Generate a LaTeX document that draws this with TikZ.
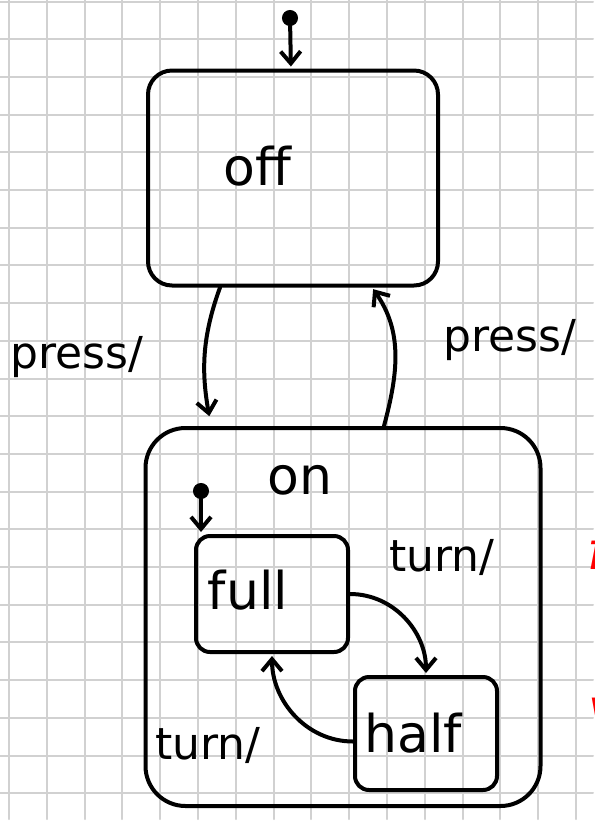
\documentclass[tikz,border=0pt]{standalone}
\usepackage{fontspec}
\setmainfont{DejaVu Sans}
\usetikzlibrary{arrows.meta}

\begin{document}
\begin{tikzpicture}[x=0.5pt,y=0.5pt,->,>={Straight Barb[length=6pt,width=10pt]},shorten >=1pt,line width=2pt,line cap=round,
  state/.style={draw,rectangle,rounded corners=12pt,inner sep=0pt},
  init/.style={circle,fill=black,draw,inner sep=0pt,minimum size=6pt},
  lbl/.style={font=\fontsize{22}{25}\selectfont,inner sep=0pt},
  statename/.style={font=\fontsize{26}{30}\selectfont,inner sep=0pt},
  gridline/.style={-,draw=black!18,line width=1pt}]
\path[use as bounding box,fill=white] (0,0) rectangle (595,-821);
\foreach \i in {0,...,15}
  \draw[gridline] ({9+37.8*\i},0) -- ({9+37.8*\i},-821);
\foreach \j in {0,...,21}
  \draw[gridline] (0,{-1.5-37.7*\j}) -- (595,{-1.5-37.7*\j});

\node[state,minimum width=145pt,minimum height=107.5pt] (off) at (293,-178) {};
\node[state,rounded corners=20pt,minimum width=197.5pt,minimum height=189pt] (on) at (343,-617) {};
\node[state,rounded corners=7pt,minimum width=76pt,minimum height=58pt] (full) at (272,-594) {};
\node[state,rounded corners=7pt,minimum width=71pt,minimum height=56.5pt] (half) at (426,-733.5) {};
\node[statename] (offtxt) at (257,-166) {off};
\node[statename] (ontxt) at (300,-480) {on};
\node[statename] (fulltxt) at (248,-590) {full};
\node[statename] (halftxt) at (413,-733) {half};
\node[init] (start1) at (290,-18) {};
\node[init] (start2) at (201,-491) {};

\path
  (start1) edge (off)
  (start2) edge (full.north -| start2)
  ([xshift=-36.5pt]off.south) edge[out=250,in=100,shorten >=5pt] ([xshift=-66pt]on.north)
  ([xshift=20.5pt]on.north) edge[out=75,in=305] ([xshift=39.5pt]off.south)
  (full.east) edge[out=0,in=90] (half.north)
  ([yshift=-4pt]half.west) edge[out=180,in=270] (full.south);

\node[lbl] (press1) at (77,-357) {press/};
\node[lbl] (press2) at (510,-340) {press/};
\node[lbl] (turn1) at (442,-557) {turn/};
\node[lbl] (turn2) at (208,-745) {turn/};
\node[font=\fontsize{26}{30}\selectfont\itshape,text=red,anchor=west,inner sep=0pt] (redf) at (585,-550) {f};
\node[font=\fontsize{26}{30}\selectfont\itshape,text=red,anchor=west,inner sep=0pt] (redv) at (586,-712) {v};
\end{tikzpicture}
\end{document}
